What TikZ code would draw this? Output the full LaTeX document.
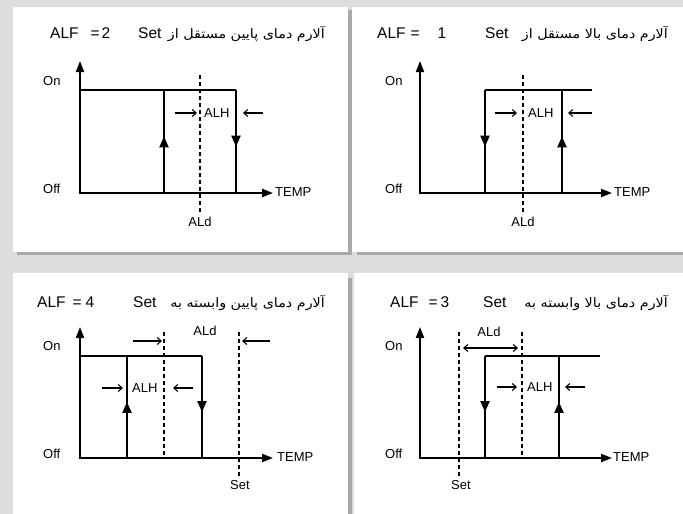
\documentclass[tikz,border=0pt]{standalone}
\usepackage{fontspec}
\setmainfont{Liberation Sans}
\newfontfamily\fa[Script=Arabic,FakeStretch=1.1]{DejaVu Sans}
\TeXXeTstate=1
\usetikzlibrary{arrows.meta,decorations.markings}
\definecolor{bgc}{RGB}{220,221,222}
\definecolor{shd}{RGB}{167,169,169}
\tikzset{
  ttl/.style={font=\fontsize{15.5}{17}\selectfont, inner sep=0pt},
  fatxt/.style={font=\fa\fontsize{13}{15}\selectfont, inner sep=0pt},
  lbl/.style={font=\fontsize{13}{15}\selectfont, inner sep=0pt},
  axis/.style={line width=2pt, {Triangle[length=11pt,width=8pt]}-{Triangle[length=11pt,width=8pt]}},
  curve/.style={line width=2pt},
  midtip/.style={postaction={decorate, decoration={markings, mark=at position 0.55 with {\arrow{Triangle[length=11pt,width=9pt]}}}}},
  dashline/.style={line width=1.6pt, dash pattern=on 4pt off 3pt},
  harrow/.style={line width=1.1pt, -{Straight Barb[length=4pt,width=7pt]}},
  hdouble/.style={line width=1.1pt, {Straight Barb[length=4pt,width=7pt]}-{Straight Barb[length=4pt,width=7pt]}},
}
\begin{document}
\begin{tikzpicture}[x=1pt,y=-1pt]
\useasboundingbox (0,0) rectangle (683,514);
\fill[bgc] (0,0) rectangle (683,514);
% panels
\fill[white] (13,7) rectangle (348,252);
\fill[shd] (17,252) rectangle (348,255);
\fill[white] (352,7) rectangle (683,252);
\fill[shd] (348,10) rectangle (352,255);
\fill[shd] (357,252) rectangle (683,255);
\fill[white] (13,273) rectangle (348,514);
\fill[white] (354,273) rectangle (683,514);
\fill[shd] (348,278) rectangle (352,514);

% ================= top-left: ALF=2
\node[ttl, anchor=base west] (tlalf) at (50,38) {ALF\hspace{12pt}=\hspace{2pt}2};
\node[ttl, anchor=base west] (tlset) at (138,38) {Set};
\node[fatxt, anchor=base east] (tlfa) at (325,38) {\beginR آلارم دمای پایین مستقل از\endR};
\node[lbl, anchor=base west] (tlon) at (43,85) {On};
\node[lbl, anchor=base west] (tloff) at (43,193) {Off};
\coordinate (tlO) at (80,193);
\coordinate (tlY) at (80,61);
\coordinate (tlX) at (273,193);
\draw[axis] (tlY) -- (tlO) -- (tlX);
\node[lbl, anchor=west] (tltemp) at (275,192) {TEMP};
\coordinate (tla) at (80,90);
\coordinate (tlb) at (236,90);
\coordinate (tlc) at (236,193);
\coordinate (tld) at (164,193);
\coordinate (tle) at (164,90);
\draw[curve] (tla) -- (tlb);
\draw[curve, midtip] (tlb) -- (tlc);
\draw[curve, midtip] (tld) -- (tle);
\coordinate (tld1) at (200,75);
\coordinate (tld2) at (200,215);
\draw[dashline] (tld1) -- (tld2);
\node[lbl, anchor=base] (tlald) at (200,226) {ALd};
\coordinate (tlh1) at (175,113);
\coordinate (tlh2) at (197,113);
\coordinate (tlh3) at (263,113);
\coordinate (tlh4) at (243,113);
\draw[harrow] (tlh1) -- (tlh2);
\draw[harrow] (tlh3) -- (tlh4);
\node[lbl, anchor=base west] (tlalh) at (204,117) {ALH};

% ================= top-right: ALF=1
\node[ttl, anchor=base west] (tralf) at (377,38) {ALF\hspace{5pt}=\hspace{18pt}1};
\node[ttl, anchor=base west] (trset) at (485,38) {Set};
\node[fatxt, anchor=base east] (trfa) at (668,38) {\beginR آلارم دمای بالا مستقل از\endR};
\node[lbl, anchor=base west] (tron) at (385,85) {On};
\node[lbl, anchor=base west] (troff) at (385,193) {Off};
\coordinate (trO) at (420,193);
\coordinate (trY) at (420,61);
\coordinate (trX) at (612,193);
\draw[axis] (trY) -- (trO) -- (trX);
\node[lbl, anchor=west] (trtemp) at (614,192) {TEMP};
\coordinate (tra) at (485,193);
\coordinate (trb) at (485,90);
\coordinate (trc) at (592,90);
\coordinate (trd) at (562,193);
\coordinate (tre) at (562,90);
\draw[curve] (trb) -- (trc);
\draw[curve, midtip] (trb) -- (tra);
\draw[curve, midtip] (trd) -- (tre);
\coordinate (trd1) at (523,75);
\coordinate (trd2) at (523,215);
\draw[dashline] (trd1) -- (trd2);
\node[lbl, anchor=base] (trald) at (523,226) {ALd};
\coordinate (trh1) at (495,113);
\coordinate (trh2) at (517,113);
\coordinate (trh3) at (592,113);
\coordinate (trh4) at (568,113);
\draw[harrow] (trh1) -- (trh2);
\draw[harrow] (trh3) -- (trh4);
\node[lbl, anchor=base west] (tralh) at (528,117) {ALH};

% ================= bottom-left: ALF=4
\node[ttl, anchor=base west] (blalf) at (37,307) {ALF\hspace{7pt}=\hspace{4pt}4};
\node[ttl, anchor=base west] (blset) at (133,307) {Set};
\node[fatxt, anchor=base east] (blfa) at (325,307) {\beginR آلارم دمای پایین وابسته به\endR};
\node[lbl, anchor=base west] (blon) at (43,350) {On};
\node[lbl, anchor=base west] (bloff) at (43,458) {Off};
\coordinate (blO) at (80,458);
\coordinate (blY) at (80,327);
\coordinate (blX) at (273,458);
\draw[axis] (blY) -- (blO) -- (blX);
\node[lbl, anchor=west] (bltemp) at (277,457) {TEMP};
\coordinate (bla) at (80,356);
\coordinate (blb) at (202,356);
\coordinate (blc) at (202,458);
\coordinate (bld) at (127,458);
\coordinate (ble) at (127,356);
\draw[curve] (bla) -- (blb);
\draw[curve, midtip] (blb) -- (blc);
\draw[curve, midtip] (bld) -- (ble);
\coordinate (bld1) at (164,332);
\coordinate (bld2) at (164,456);
\coordinate (bld3) at (239,332);
\coordinate (bld4) at (239,477);
\draw[dashline] (bld1) -- (bld2);
\draw[dashline] (bld3) -- (bld4);
\node[lbl, anchor=base] (blsetb) at (240,489) {Set};
\node[lbl, anchor=base] (blald) at (205,335) {ALd};
\coordinate (blk1) at (133,341);
\coordinate (blk2) at (162,341);
\coordinate (blk3) at (270,341);
\coordinate (blk4) at (242,341);
\draw[harrow] (blk1) -- (blk2);
\draw[harrow] (blk3) -- (blk4);
\coordinate (blh1) at (102,388);
\coordinate (blh2) at (123,388);
\coordinate (blh3) at (193,388);
\coordinate (blh4) at (173,388);
\draw[harrow] (blh1) -- (blh2);
\draw[harrow] (blh3) -- (blh4);
\node[lbl, anchor=base west] (blalh) at (132,392) {ALH};

% ================= bottom-right: ALF=3
\node[ttl, anchor=base west] (bralf) at (390,307) {ALF\hspace{10pt}=\hspace{3pt}3};
\node[ttl, anchor=base west] (brset) at (483,307) {Set};
\node[fatxt, anchor=base east] (brfa) at (668,307) {\beginR آلارم دمای بالا وابسته به\endR};
\node[lbl, anchor=base west] (bron) at (385,350) {On};
\node[lbl, anchor=base west] (broff) at (385,458) {Off};
\coordinate (brO) at (420,458);
\coordinate (brY) at (420,327);
\coordinate (brX) at (612,458);
\draw[axis] (brY) -- (brO) -- (brX);
\node[lbl, anchor=west] (brtemp) at (613,457) {TEMP};
\coordinate (bra) at (485,458);
\coordinate (brb) at (485,356);
\coordinate (brc) at (600,356);
\coordinate (brd) at (559,458);
\coordinate (bre) at (559,356);
\draw[curve] (brb) -- (brc);
\draw[curve, midtip] (brb) -- (bra);
\draw[curve, midtip] (brd) -- (bre);
\coordinate (brd1) at (459,332);
\coordinate (brd2) at (459,477);
\coordinate (brd3) at (522,332);
\coordinate (brd4) at (522,456);
\draw[dashline] (brd1) -- (brd2);
\draw[dashline] (brd3) -- (brd4);
\node[lbl, anchor=base] (brsetb) at (461,489) {Set};
\node[lbl, anchor=base] (brald) at (489,336) {ALd};
\coordinate (brk1) at (463,348);
\coordinate (brk2) at (518,348);
\draw[hdouble] (brk1) -- (brk2);
\coordinate (brh1) at (497,387);
\coordinate (brh2) at (517,387);
\coordinate (brh3) at (585,387);
\coordinate (brh4) at (565,387);
\draw[harrow] (brh1) -- (brh2);
\draw[harrow] (brh3) -- (brh4);
\node[lbl, anchor=base west] (bralh) at (527,391) {ALH};
\end{tikzpicture}
\end{document}
